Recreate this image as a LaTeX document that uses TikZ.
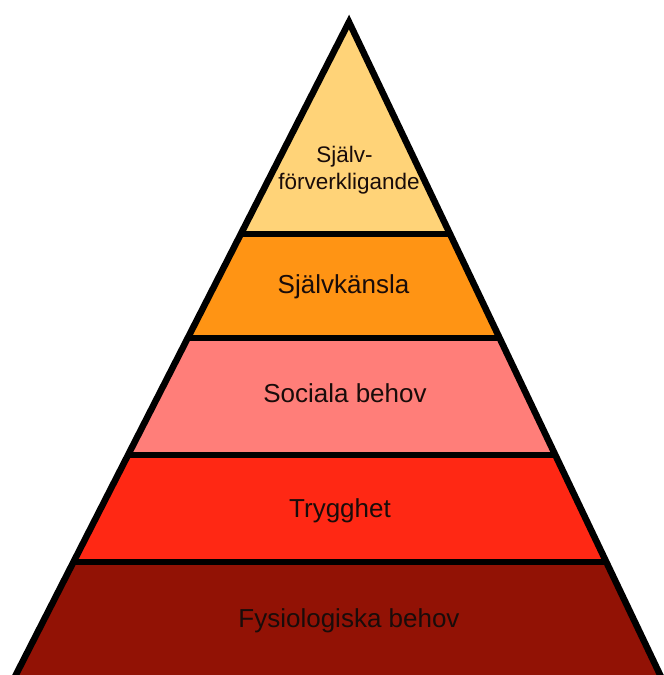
\documentclass[tikz,border=0pt]{standalone}
\usepackage{fontspec}
\setmainfont{Liberation Sans}
\definecolor{cTop}{RGB}{255,211,120}
\definecolor{cEsteem}{RGB}{255,148,20}
\definecolor{cSocial}{RGB}{255,126,121}
\definecolor{cSafety}{RGB}{255,40,20}
\definecolor{cPhys}{RGB}{146,18,5}
\definecolor{cText}{RGB}{25,12,10}
\begin{document}
\begin{tikzpicture}[x=1pt,y=-1pt,
  outline/.style={line width=6.5pt,line join=miter,miter limit=10},
  bandline/.style={line width=6.5pt},
  lbl/.style={anchor=base,inner sep=0pt,text=cText,font=\fontsize{26}{31}\selectfont},
  toplbl/.style={anchor=base,inner sep=0pt,text=cText,font=\fontsize{22.5}{27}\selectfont}]
\useasboundingbox (0,0) rectangle (664,675);
\coordinate (apex) at (349,22);
\coordinate (bl) at (12.2,682);
\coordinate (br) at (663.5,682);
\begin{scope}
  \clip (apex) -- (bl) -- (br) -- cycle;
  \fill[cTop] (0,0) rectangle (664,234);
  \fill[cEsteem] (0,234) rectangle (664,338);
  \fill[cSocial] (0,338) rectangle (664,455);
  \fill[cSafety] (0,455) rectangle (664,562);
  \fill[cPhys] (0,562) rectangle (664,690);
  \draw[bandline] (0,234) -- (664,234);
  \draw[bandline] (0,338) -- (664,338);
  \draw[bandline] (0,455) -- (664,455);
  \draw[bandline] (0,562) -- (664,562);
\end{scope}
\draw[outline] (bl) -- (apex) -- (br);
\node[toplbl] (t1a) at (344.5,162) {Själv-};
\node[toplbl] (t1b) at (349,189) {förverkligande};
\node[lbl] (t2) at (343.5,293) {Självkänsla};
\node[lbl] (t3) at (345,402) {Sociala behov};
\node[lbl] (t4) at (340,517) {Trygghet};
\node[lbl] (t5) at (349,627) {Fysiologiska behov};
\end{tikzpicture}
\end{document}
